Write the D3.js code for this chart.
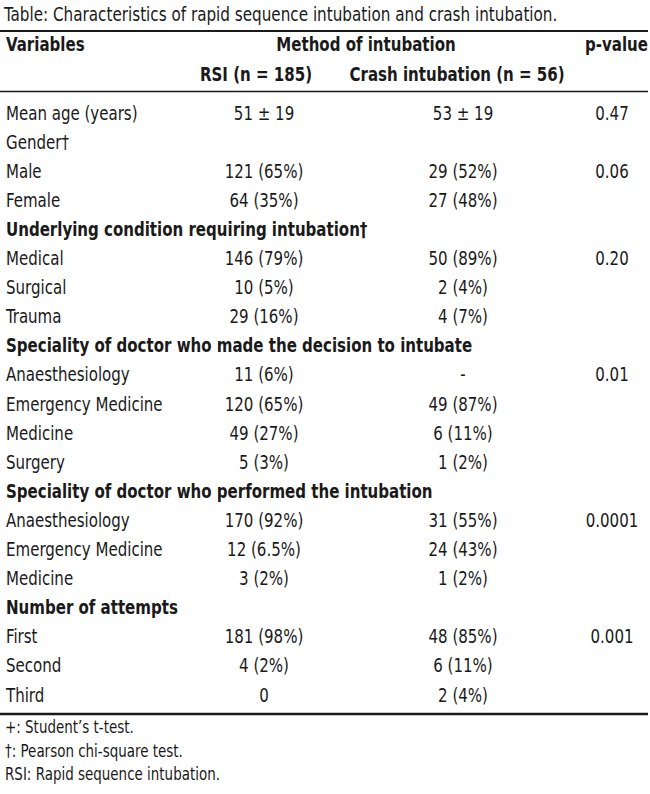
<!DOCTYPE html>
<html>
<head>
<meta charset="utf-8">
<script src="https://cdn.jsdelivr.net/npm/d3@7"></script>
<style>
  body { margin: 0; background: #fff; }
  svg text { font-family: "DejaVu Sans Condensed", "DejaVu Sans", sans-serif; font-stretch: condensed; fill: #1a1a1a; }
  .bold { font-weight: bold; }
</style>
</head>
<body>
<div id="table-chart"></div>
<script>
// Table data
const title = "Table: Characteristics of rapid sequence intubation and crash intubation.";
const labels = [
    "Mean age (years)", "Gender\u2020", "Male", "Female",
    "Underlying condition requiring intubation\u2020", "Medical", "Surgical", "Trauma",
    "Speciality of doctor who made the decision to intubate",
    "Anaesthesiology", "Emergency Medicine", "Medicine", "Surgery",
    "Speciality of doctor who performed the intubation",
    "Anaesthesiology", "Emergency Medicine", "Medicine",
    "Number of attempts", "First", "Second", "Third"
];
const sectionRows = [4, 8, 13, 17];
const rsiValues = [
    "51 \u00b1 19", "", "121 (65%)", "64 (35%)",
    "", "146 (79%)", "10 (5%)", "29 (16%)",
    "", "11 (6%)", "120 (65%)", "49 (27%)", "5 (3%)",
    "", "170 (92%)", "12 (6.5%)", "3 (2%)",
    "", "181 (98%)", "4 (2%)", "0"
];
const crashValues = [
    "53 \u00b1 19", "", "29 (52%)", "27 (48%)",
    "", "50 (89%)", "2 (4%)", "4 (7%)",
    "", "-", "49 (87%)", "6 (11%)", "1 (2%)",
    "", "31 (55%)", "24 (43%)", "1 (2%)",
    "", "48 (85%)", "6 (11%)", "2 (4%)"
];
const pValues = [
    "0.47", "", "0.06", "", "", "0.20", "", "", "",
    "0.01", "", "", "", "", "0.0001", "", "", "", "0.001", "", ""
];
const footnotes = [
    "+: Student\u2019s t-test.",
    "\u2020: Pearson chi-square test.",
    "RSI: Rapid sequence intubation."
];

const width = 650, height = 794;
const fontSize = 19;
const squeeze = 0.88;   // narrow the face to look like the condensed original

const svg = d3.select("#table-chart")
    .append("svg")
    .attr("width", width)
    .attr("height", height);

// Row positions
const rowScale = d3.scaleLinear()
    .domain([0, labels.length - 1])
    .range([113, 695]);

// Column centres
const colX = { label: 6, rsi: 264, crash: 463, p: 612 };

// helper: place condensed text
function place(sel, x, y, sx = squeeze) {
    return sel.attr("transform", `translate(${x}, ${y}) scale(${sx}, 1)`);
}

// Title
place(svg.append("text"), 4, 21, 0.89)
    .attr("font-size", fontSize)
    .text(title);

// Rules
const rules = [
    { y: 31, w: 2 },
    { y: 91.5, w: 1.5 },
    { y: 714, w: 2.5 }
];
svg.selectAll(".rule")
    .data(rules)
    .join("line")
    .attr("class", "rule")
    .attr("x1", 0)
    .attr("x2", 648)
    .attr("y1", d => d.y)
    .attr("y2", d => d.y)
    .attr("stroke", "#1a1a1a")
    .attr("stroke-width", d => d.w);

// Header
const header = svg.append("g").attr("class", "bold").attr("font-size", fontSize);
place(header.append("text"), colX.label, 51).text("Variables");
place(header.append("text"), 366, 51).attr("text-anchor", "middle").text("Method of intubation");
place(header.append("text"), 648, 51).attr("text-anchor", "end").text("p-value");
place(header.append("text"), 256, 81).attr("text-anchor", "middle").text("RSI (n = 185)");
place(header.append("text"), 457, 81).attr("text-anchor", "middle").text("Crash intubation (n = 56)");

// Body rows
const rows = svg.selectAll(".row")
    .data(labels.map((d, i) => i))
    .join("g")
    .attr("class", "row")
    .attr("font-size", fontSize)
    .attr("transform", i => `translate(0, ${rowScale(i) + 6.5})`);

place(rows.append("text"), colX.label, 0)
    .attr("class", i => sectionRows.includes(i) ? "bold" : null)
    .text(i => labels[i]);

place(rows.append("text"), colX.rsi, 0)
    .attr("text-anchor", "middle")
    .text(i => rsiValues[i]);

place(rows.append("text"), colX.crash, 0)
    .attr("text-anchor", "middle")
    .text(i => crashValues[i]);

place(rows.append("text"), colX.p, 0)
    .attr("text-anchor", "middle")
    .text(i => pValues[i]);

// Footnotes
svg.selectAll(".footnote")
    .data(footnotes)
    .join("text")
    .attr("class", "footnote")
    .attr("font-size", 17)
    .attr("transform", (d, i) => `translate(5, ${733 + i * 23.5}) scale(${squeeze}, 1)`)
    .text(d => d);
</script>
</body>
</html>
